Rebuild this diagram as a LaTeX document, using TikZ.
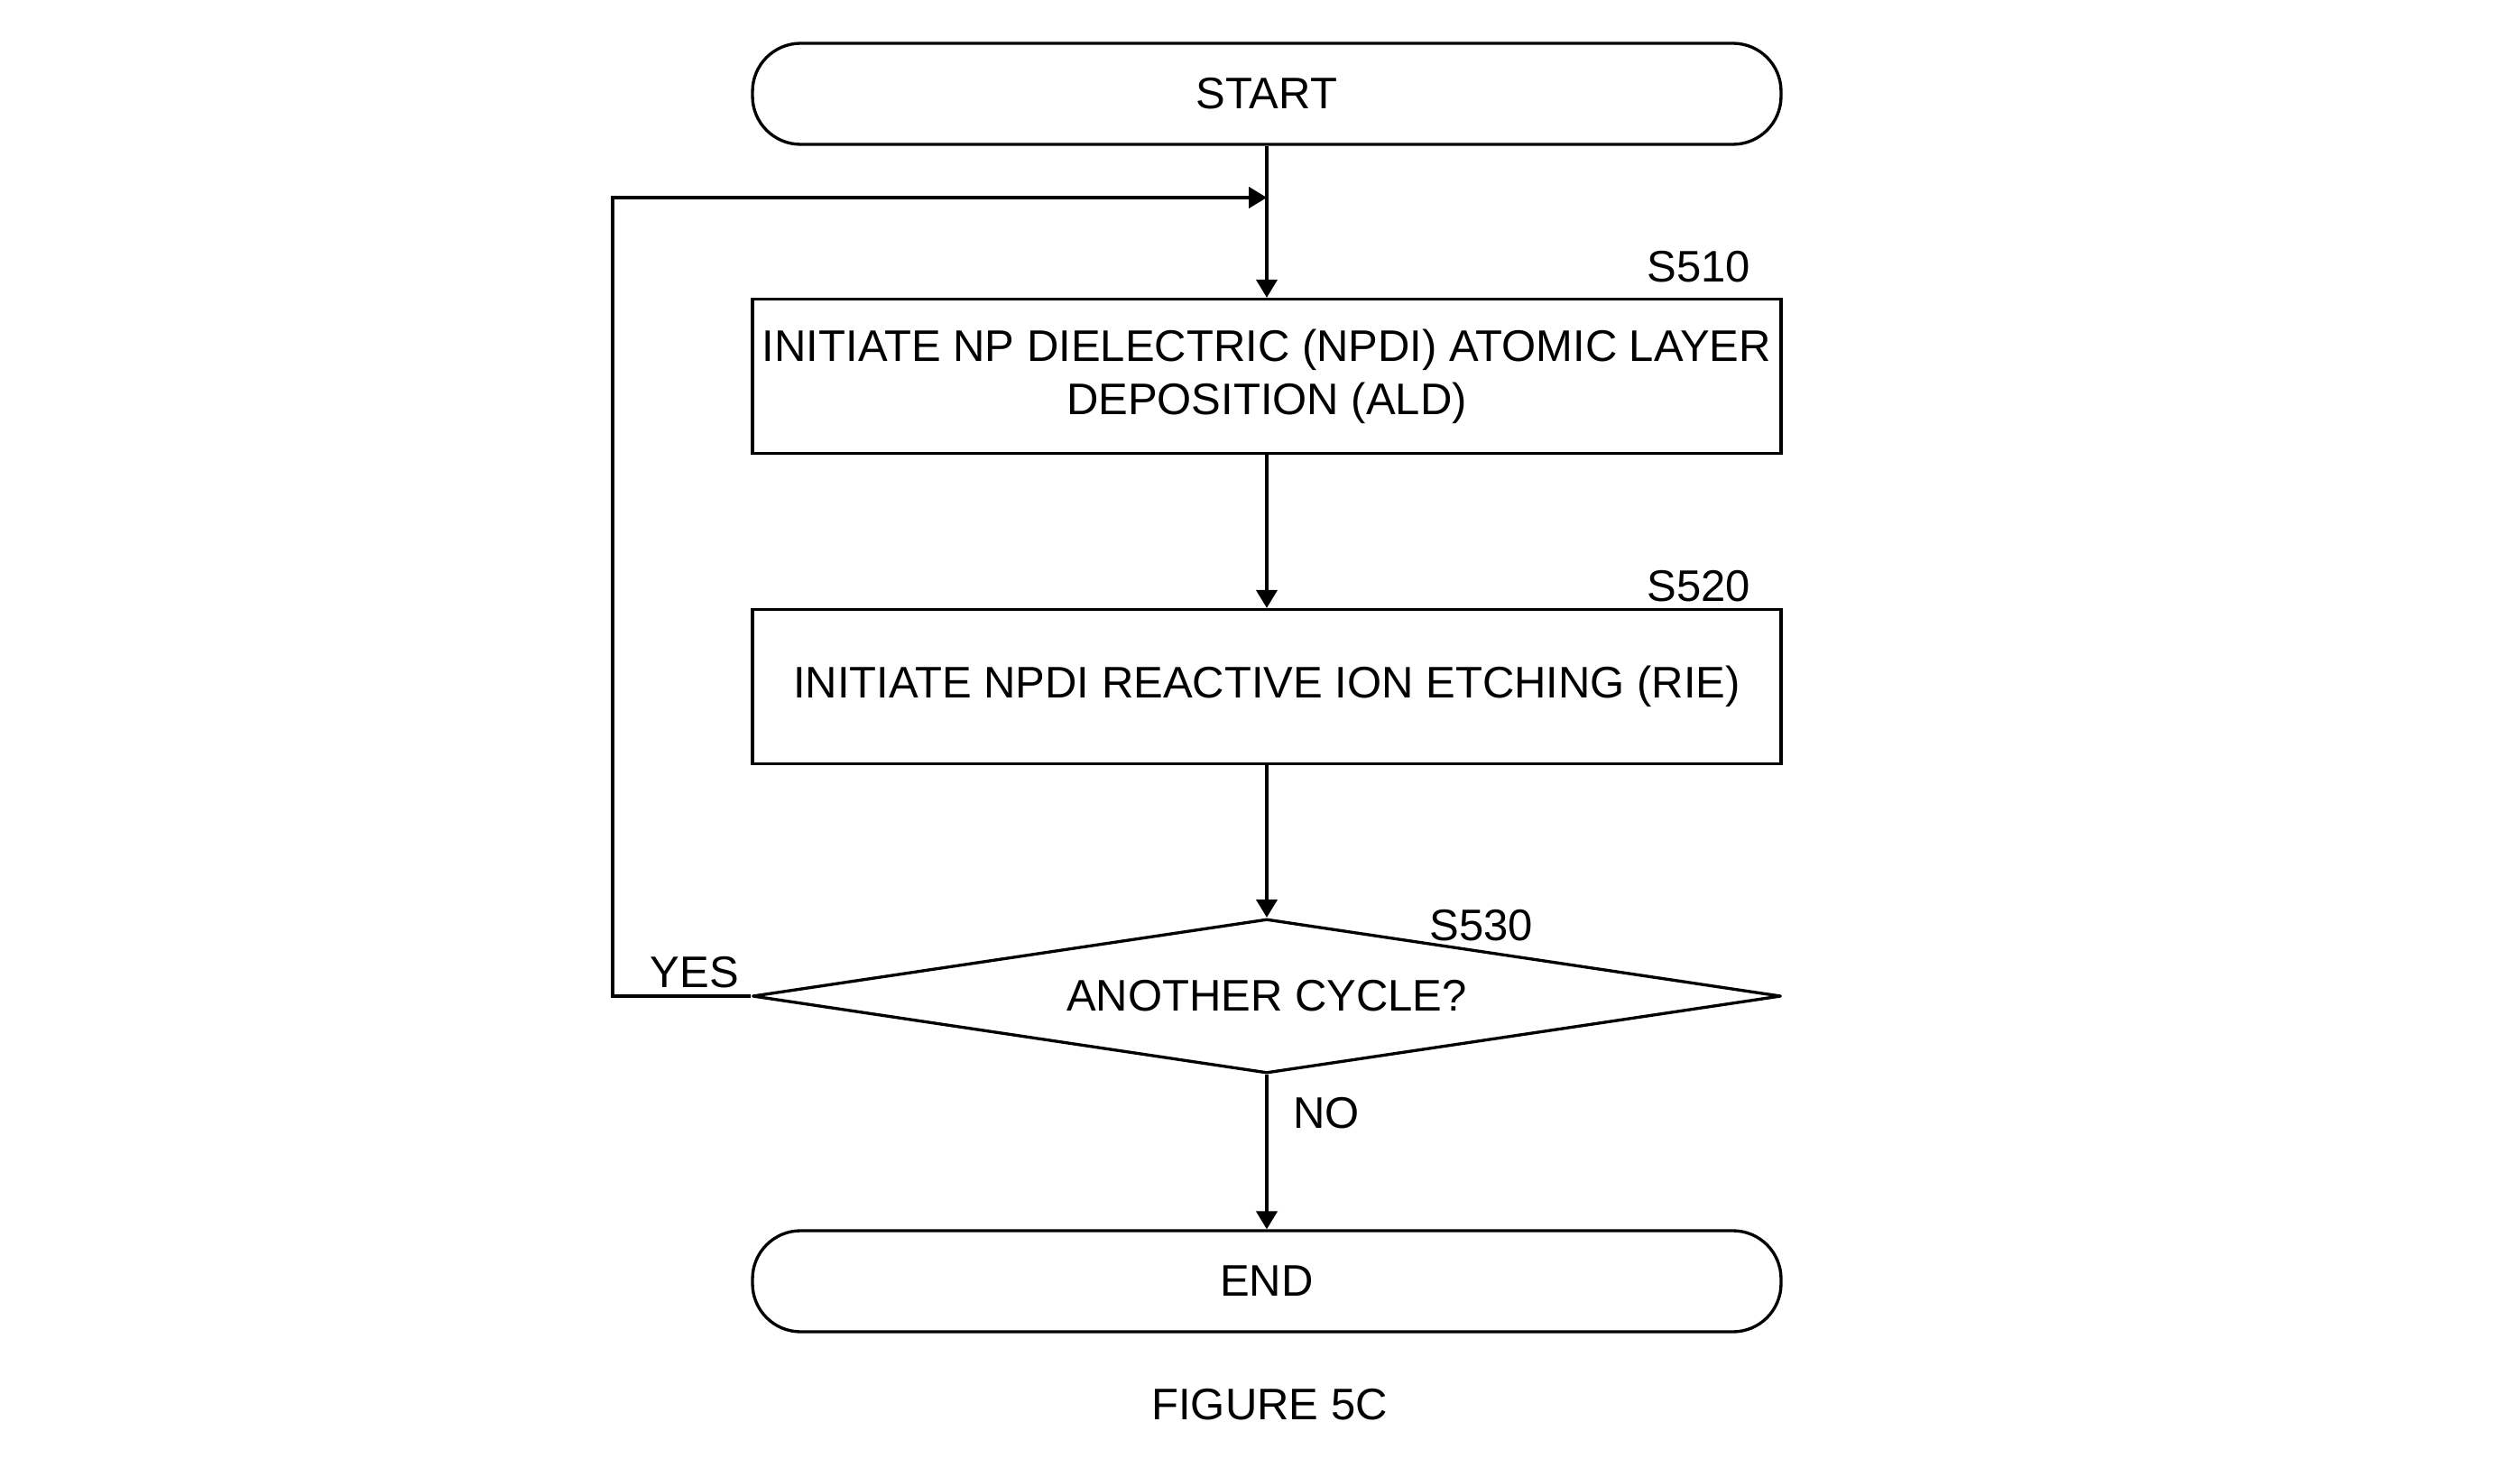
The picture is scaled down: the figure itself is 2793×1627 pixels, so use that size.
\documentclass[tikz,border=0pt]{standalone}
\usepackage{fontspec}
\setmainfont{Liberation Sans}
\usetikzlibrary{shapes.geometric,arrows.meta}
\begin{document}
\begin{tikzpicture}[x=0.3pt,y=-0.3pt,
  every node/.style={font=\fontsize{14.7}{17.6}\selectfont},
  arr/.style={line width=1pt,-{Triangle[length=6pt,width=7pt]}},
  term/.style={draw,line width=1pt,rounded corners=16pt,minimum width=342pt,minimum height=33.6pt,inner sep=0},
  proc/.style={draw,line width=1pt,minimum width=342pt,minimum height=51.3pt,inner sep=0,align=center},
  dec/.style={draw,line width=1pt,line join=round,diamond,aspect=6.67,minimum width=342pt,minimum height=51.3pt,inner sep=0},
  lbl/.style={inner sep=0}
]
\useasboundingbox (0,0) rectangle (2793,1627);
\node[term] (start) at (1404,104) {START};
\node[proc] (s510) at (1404,417) {INITIATE NP DIELECTRIC (NPDI) ATOMIC LAYER\\DEPOSITION (ALD)};
\node[proc] (s520) at (1404,761) {INITIATE NPDI REACTIVE ION ETCHING (RIE)};
\node[dec] (s530) at (1404,1104) {ANOTHER CYCLE?};
\node[term] (end) at (1404,1420) {END};
\node[lbl] (l510) at (1883,296) {S510};
\node[lbl] (l520) at (1883,650) {S520};
\node[lbl] (l530) at (1642,1026) {S530};
\node[lbl] (yes) at (770,1078) {YES};
\node[lbl] (no) at (1470,1234) {NO};
\node[lbl] (fig) at (1407,1557) {FIGURE 5C};
\coordinate (join) at (1404,219);
\coordinate (lc) at (679,1104);
\draw[arr] (start) -- (s510);
\draw[arr] (s510) -- (s520);
\draw[arr] (s520) -- (s530);
\draw[arr] (s530) -- (end);
\draw[arr] (s530.west) -- (lc) |- (join);
\end{tikzpicture}
\end{document}
